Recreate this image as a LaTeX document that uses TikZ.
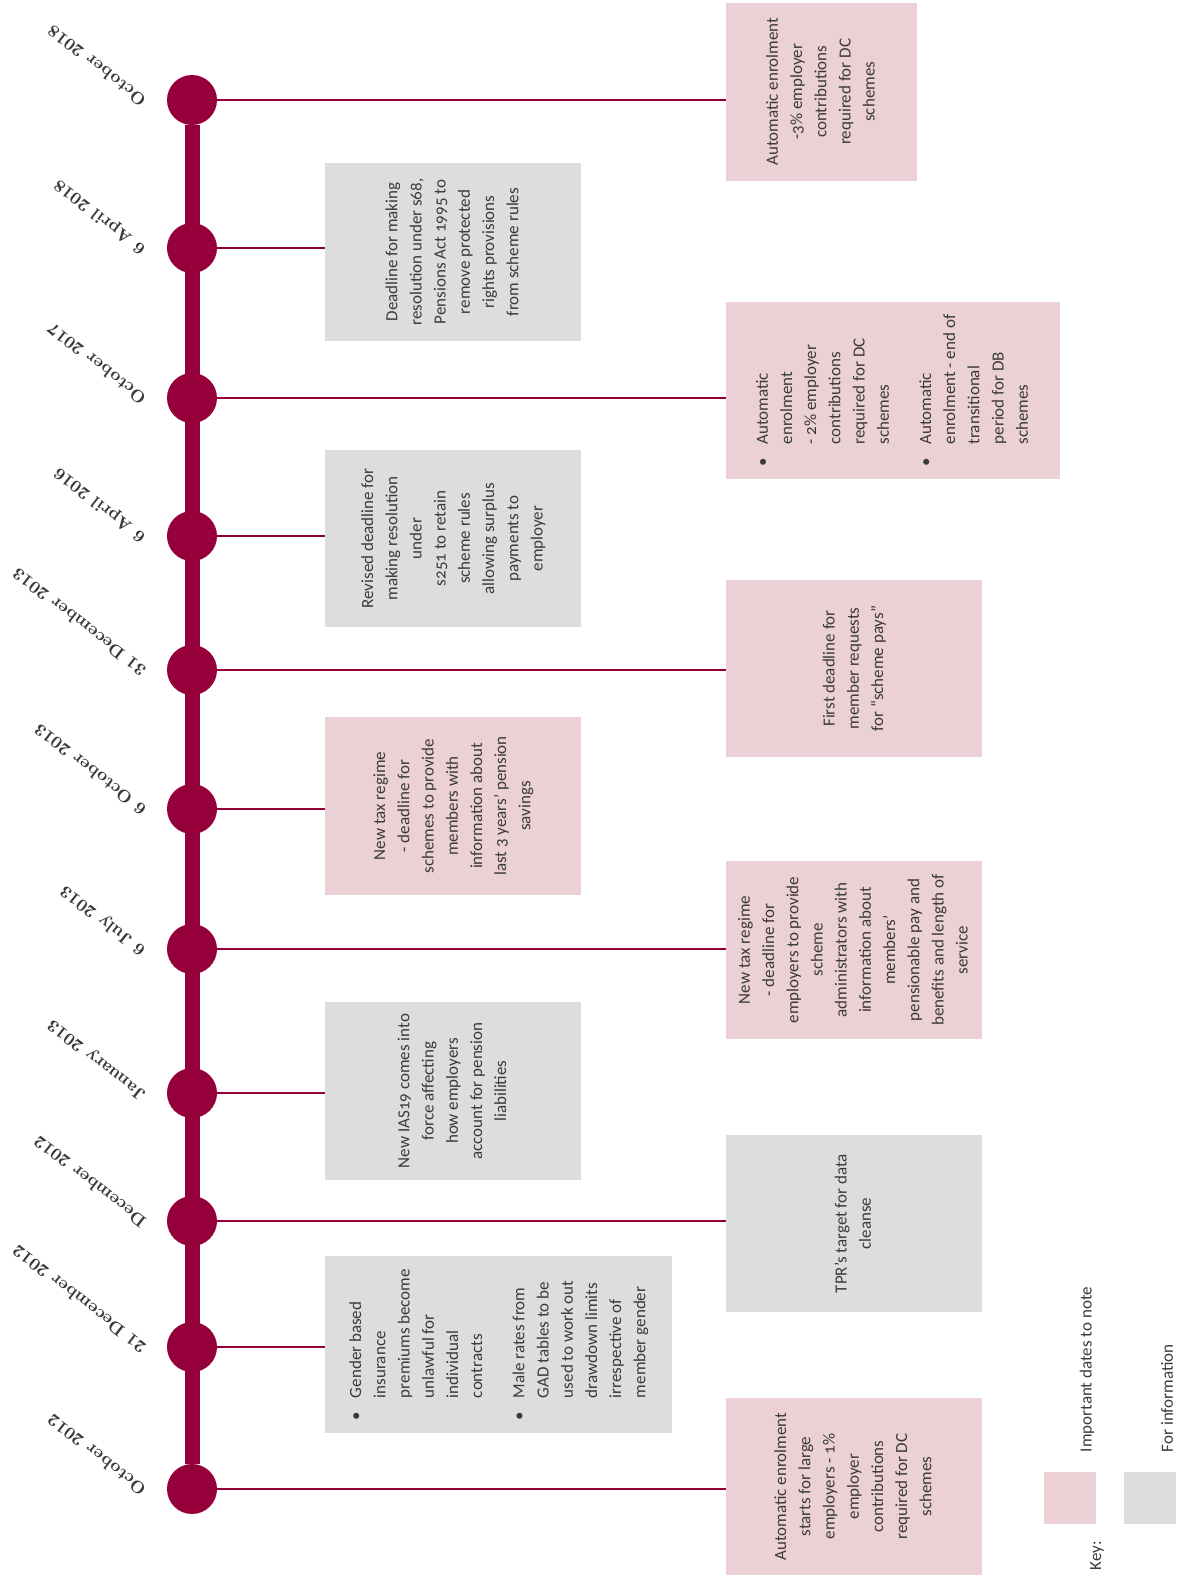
\documentclass[tikz,border=0pt]{standalone}
\usepackage{fontspec}
\newfontfamily\boxfont{Carlito}[Numbers=OldStyle]
\usepackage{tikz}
\usetikzlibrary{positioning}

\definecolor{crimson}{HTML}{95003A}
\definecolor{pinkfill}{HTML}{EBD0D5}
\definecolor{greyfill}{HTML}{DCDDDF}
\definecolor{inkgrey}{HTML}{3A3A3A}

\newcommand{\bul}{\makebox[11pt][l]{\textbullet}}
\newcommand{\ind}{\hspace*{11pt}}
\newcommand{\vtext}[1]{\rotatebox{90}{\begin{tabular}{@{}c@{}}#1\end{tabular}}}
\newcommand{\vlist}[1]{\rotatebox{90}{\begin{tabular}{@{}l@{}}#1\end{tabular}}}

\begin{document}
\begin{tikzpicture}[
    x=0.5pt, y=-0.5pt,
    dot/.style={circle, fill=crimson, minimum size=25pt, inner sep=0pt},
    datelbl/.style={rotate=142, anchor=west, inner sep=0pt, text=inkgrey,
                    font=\fontsize{8.6}{10}\selectfont\bfseries},
    infobox/.style={rectangle, inner sep=0pt, minimum width=128pt, minimum height=88.75pt,
                    text=inkgrey, font=\boxfont\fontsize{8.5}{12.1}\selectfont},
    pinkbox/.style={infobox, fill=pinkfill},
    greybox/.style={infobox, fill=greyfill},
    keysq/.style={rectangle, minimum size=26pt, inner sep=0pt},
    keylbl/.style={rotate=90, inner sep=0pt, text=inkgrey, font=\boxfont\fontsize{8.5}{10}\selectfont},
    link/.style={crimson, line width=1pt},
    spine/.style={crimson, line width=7.5pt}
]
    \useasboundingbox (0,0) rectangle (1179,1581);

    % timeline dots
    \node[dot] (d1) at (192,100) {};
    \node[dot] (d2) at (192,248) {};
    \node[dot] (d3) at (192,398) {};
    \node[dot] (d4) at (192,536) {};
    \node[dot] (d5) at (192,670) {};
    \node[dot] (d6) at (192,809) {};
    \node[dot] (d7) at (192,949) {};
    \node[dot] (d8) at (192,1093) {};
    \node[dot] (d9) at (192,1221) {};
    \node[dot] (d10) at (192,1347) {};
    \node[dot] (d11) at (192,1489) {};
    \draw[spine] (d1) -- (d11);

    % dates
    \node[datelbl] (t1) at ([shift={(-48,3)}]d1) {October 2018};
    \node[datelbl] (t2) at ([shift={(-48,3)}]d2) {6 April 2018};
    \node[datelbl] (t3) at ([shift={(-48,3)}]d3) {October 2017};
    \node[datelbl] (t4) at ([shift={(-48,3)}]d4) {6 April 2016};
    \node[datelbl] (t5) at ([shift={(-48,3)}]d5) {31 December 2013};
    \node[datelbl] (t6) at ([shift={(-48,3)}]d6) {6 October 2013};
    \node[datelbl] (t7) at ([shift={(-48,3)}]d7) {6 July 2013};
    \node[datelbl] (t8) at ([shift={(-48,3)}]d8) {January 2013};
    \node[datelbl] (t9) at ([shift={(-48,3)}]d9) {December 2012};
    \node[datelbl] (t10) at ([shift={(-48,3)}]d10) {21 December 2012};
    \node[datelbl] (t11) at ([shift={(-48,3)}]d11) {October 2012};

    % boxes
    \node[pinkbox, minimum width=95.5pt] (b1) at (821.5,91.75)
        {\vtext{Automatic enrolment\\-3\% employer\\contributions\\required for DC\\schemes}};
    \node[greybox] (b2) at (453,252)
        {\vtext{Deadline for making\\resolution under s68,\\Pensions Act 1995 to\\remove protected\\rights provisions\\from scheme rules}};
    \node[pinkbox, minimum width=167pt] (b3) at (893,390.5)
        {\vlist{\bul Automatic\\ \ind enrolment\\ \ind - 2\% employer\\ \ind contributions\\ \ind required for DC\\ \ind schemes\\[9pt]
                \bul Automatic\\ \ind enrolment - end of\\ \ind transitional\\ \ind period for DB\\ \ind schemes}};
    \node[greybox] (b4) at (453,538.5)
        {\vtext{Revised deadline for\\making resolution\\under\\s251 to retain\\scheme rules\\allowing surplus\\payments to\\employer}};
    \node[pinkbox] (b5) at (854,668.5)
        {\vtext{First deadline for\\member requests\\for “scheme pays”}};
    \node[pinkbox] (b6) at (453,806)
        {\vtext{New tax regime\\- deadline for\\schemes to provide\\members with\\information about\\last 3 years’ pension\\savings}};
    \node[pinkbox] (b7) at (854,950)
        {\vtext{New tax regime\\- deadline for\\employers to provide\\scheme\\administrators with\\information about\\members’\\pensionable pay and\\benefits and length of\\service}};
    \node[greybox] (b8) at (453,1091)
        {\vtext{New IAS19 comes into\\force affecting\\how employers\\account for pension\\liabilities}};
    \node[greybox] (b9) at (854,1223.5)
        {\vtext{TPR’s target for data\\cleanse}};
    \node[greybox, minimum width=173.5pt] (b10) at (498.5,1344.5)
        {\vlist{\bul Gender based\\ \ind insurance\\ \ind premiums become\\ \ind unlawful for\\ \ind individual\\ \ind contracts\\[9pt]
                \bul Male rates from\\ \ind GAD tables to be\\ \ind used to work out\\ \ind drawdown limits\\ \ind irrespective of\\ \ind member gender}};
    \node[pinkbox] (b11) at (854,1486.5)
        {\vtext{Automatic enrolment\\starts for large\\employers - 1\%\\employer\\contributions\\required for DC\\schemes}};

    % links
    \draw[link] (d1.east) -- (b1.west |- d1);
    \draw[link] (d2.east) -- (b2.west |- d2);
    \draw[link] (d3.east) -- (b3.west |- d3);
    \draw[link] (d4.east) -- (b4.west |- d4);
    \draw[link] (d5.east) -- (b5.west |- d5);
    \draw[link] (d6.east) -- (b6.west |- d6);
    \draw[link] (d7.east) -- (b7.west |- d7);
    \draw[link] (d8.east) -- (b8.west |- d8);
    \draw[link] (d9.east) -- (b9.west |- d9);
    \draw[link] (d10.east) -- (b10.west |- d10);
    \draw[link] (d11.east) -- (b11.west |- d11);

    % key
    \node[keysq, fill=pinkfill] (k1) at (1070,1497.5) {};
    \node[keysq, fill=greyfill] (k2) at (1150,1497.5) {};
    \node[keylbl, anchor=west] (k1lbl) at ([shift={(17,-45)}]k1) {Important dates to note};
    \node[keylbl, anchor=west] (k2lbl) at ([shift={(17,-45)}]k2) {For information};
    \node[keylbl] (keyhead) at ([shift={(27,58)}]k1) {Key:};
\end{tikzpicture}
\end{document}
